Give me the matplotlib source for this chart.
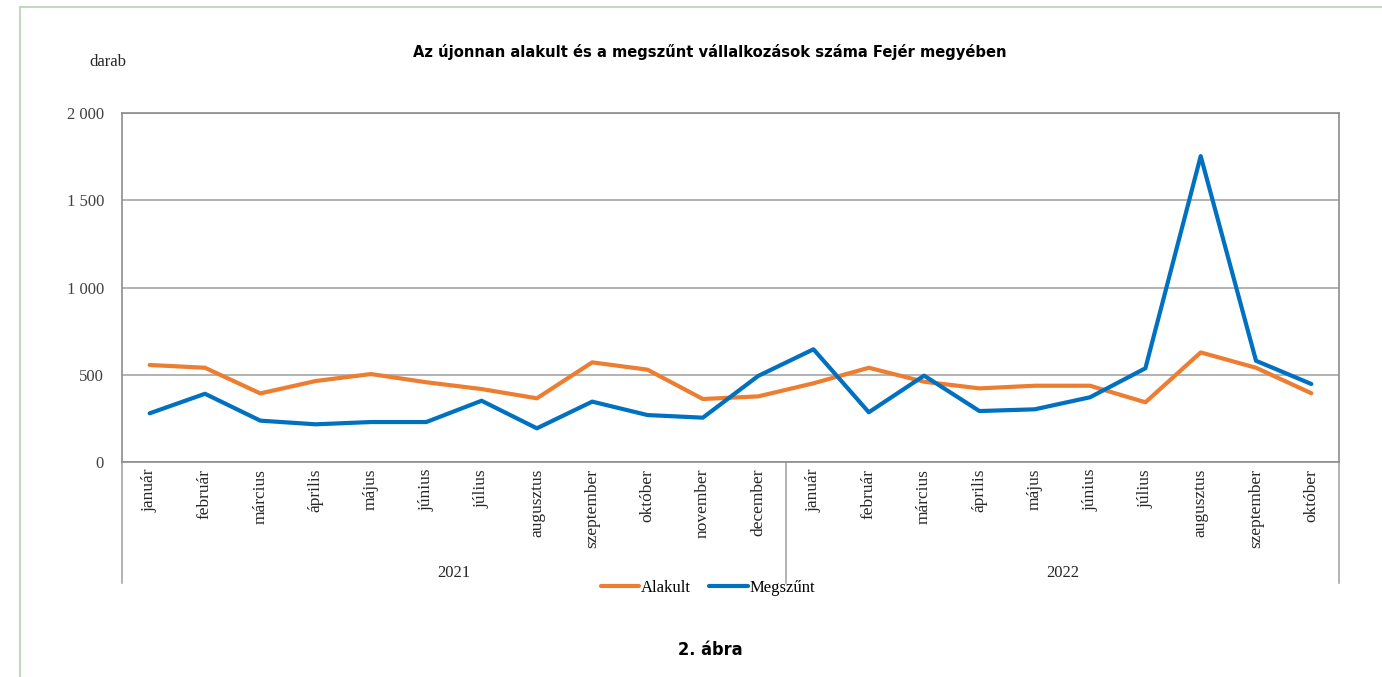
#!/usr/bin/env python3

import matplotlib
matplotlib.use('Agg')
import matplotlib.pyplot as plt
import matplotlib.transforms as mtransforms
from matplotlib.lines import Line2D

MONTHS = ['január', 'február', 'március', 'április', 'május', 'június',
          'július', 'augusztus', 'szeptember', 'október', 'november', 'december',
          'január', 'február', 'március', 'április', 'május', 'június',
          'július', 'augusztus', 'szeptember', 'október']
YEARS = ['2021', '2022']
YEAR_LEN = [12, 10]

ALAKULT = [556, 540, 393, 464, 504, 457, 418, 365, 571, 529, 361, 376,
           451, 540, 460, 422, 437, 437, 342, 628, 540, 394]
MEGSZUNT = [279, 391, 237, 216, 229, 229, 351, 193, 346, 269, 254, 493,
            646, 285, 495, 292, 302, 371, 537, 1753, 580, 447]

YTICKS = [0, 500, 1000, 1500, 2000]

SERIF = ['Liberation Serif', 'DejaVu Serif']

W, H = 1382, 677
fig = plt.figure(figsize=(W / 100, H / 100), dpi=100)
ax = fig.add_axes([122 / W, 1 - 462 / H, (1339 - 122) / W, (462 - 113) / H])

x = list(range(len(MONTHS)))
ax.plot(x, ALAKULT, color='#ED7D31', lw=3, label='Alakult', solid_capstyle='round')
ax.plot(x, MEGSZUNT, color='#0070C0', lw=3, label='Megszűnt', solid_capstyle='round')

ax.set_xlim(-0.5, len(MONTHS) - 0.5)
ax.set_ylim(0, 2000)
ax.set_yticks(YTICKS)
ax.set_yticklabels([f'{v:,}'.replace(',', ' ') for v in YTICKS],
                   family=SERIF, fontsize=12, color='#404040')
ax.set_xticks(x)
ax.set_xticklabels(MONTHS, rotation=90, family=SERIF, fontsize=12.5, color='#262626')
ax.tick_params(axis='both', length=0)
ax.tick_params(axis='y', pad=13)
ax.tick_params(axis='x', pad=5)
ax.yaxis.grid(True, color='#a6a6a6', lw=1.2)
ax.set_axisbelow(True)
for s in ax.spines.values():
    s.set_color('#8c8c8c')
    s.set_linewidth(1.2)

# year separators and labels below the axis
trans = mtransforms.blended_transform_factory(ax.transData, fig.transFigure)
y_low = 1 - 583 / H
y_top = 1 - 462 / H
start = -0.5
for yr, n in zip(YEARS, YEAR_LEN):
    ax.add_line(Line2D([start, start], [y_low, y_top], transform=trans,
                       color='#a6a6a6', lw=1.2, clip_on=False))
    fig.text(start + n / 2, 1 - 573 / H, yr, transform=trans, ha='center', va='center',
             family=SERIF, fontsize=12, color='#262626')
    start += n
ax.add_line(Line2D([start, start], [y_low, y_top], transform=trans,
                   color='#a6a6a6', lw=1.2, clip_on=False))

fig.legend(loc='center', bbox_to_anchor=(708 / W, 1 - 588 / H), ncol=2, frameon=False,
           prop={'family': SERIF, 'size': 12}, handlelength=2.3, handletextpad=0.1,
           columnspacing=1.1)

fig.text(710 / W, 1 - 52 / H, 'Az újonnan alakult és a megszűnt vállalkozások száma Fejér megyében',
         ha='center', va='center', family='DejaVu Sans', fontstretch='condensed',
         fontweight='bold', fontsize=11.8)
fig.text(108 / W, 1 - 62 / H, 'darab', ha='center', va='center',
         family=SERIF, fontsize=12, color='#262626')
fig.text(710 / W, 1 - 650 / H, '2. ábra', ha='center', va='center',
         family='DejaVu Sans', fontstretch='condensed', fontweight='bold', fontsize=13)

# page frame
fig.add_artist(Line2D([20 / W, 20 / W], [0, 1 - 7 / H], color='#c3d9bf', lw=1.5))
fig.add_artist(Line2D([20 / W, 1], [1 - 7 / H, 1 - 7 / H], color='#c3d9bf', lw=1.5))

fig.savefig('out.png', dpi=100)
